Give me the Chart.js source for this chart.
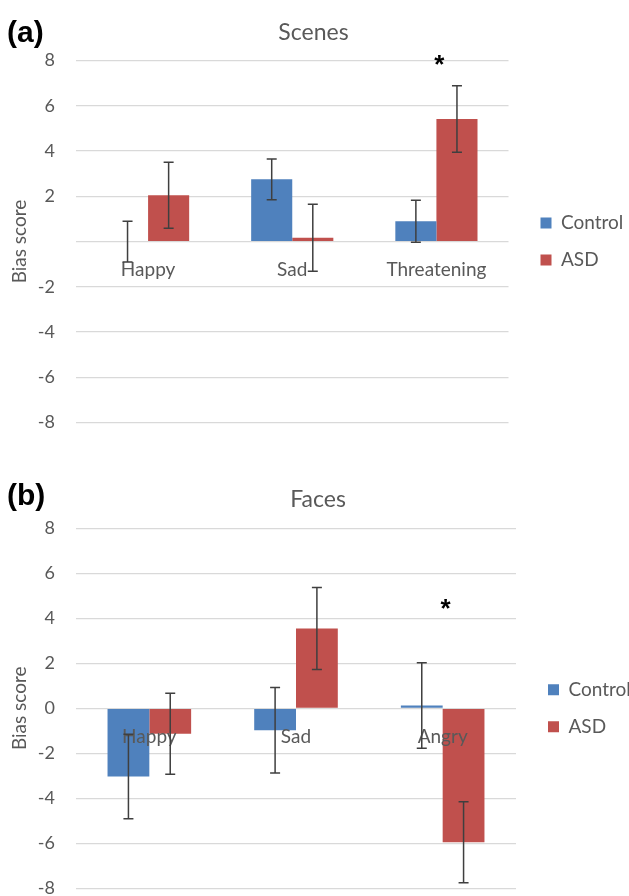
<!DOCTYPE html>
<html>
<head>
<meta charset="utf-8">
<script src="https://cdn.jsdelivr.net/npm/chart.js@4"></script>
<style>
  html, body { margin: 0; padding: 0; background: #fff; overflow: hidden; }
  .panel { position: absolute; left: 0; width: 629px; }
  .tag { position: absolute; left: 7px; font: bold 30px "Liberation Sans", Arial, sans-serif; color: #000; line-height: 1; }
</style>
</head>
<body>
<div class="panel" style="top:0"><canvas id="scenes" width="629" height="455"></canvas></div>
<div class="panel" style="top:455px"><canvas id="faces" width="629" height="467"></canvas></div>
<div class="tag" style="top:17px">(a)</div>
<div class="tag" style="top:480px">(b)</div>
<script>
// values
const seriesNames = ['Control', 'ASD'];

const scenesCats = ['Happy', 'Sad', 'Threatening'];
const scenesControl = [0, 2.75, 0.9];
const scenesControlErr = [0.9, 0.9, 0.93];
const scenesAsd = [2.05, 0.17, 5.42];
const scenesAsdErr = [1.46, 1.48, 1.47];
const scenesStar = ['Threatening', 8.0];

const facesCats = ['Happy', 'Sad', 'Angry'];
const facesControl = [-3.03, -0.98, 0.13];
const facesControlErr = [1.88, 1.9, 1.9];
const facesAsd = [-1.13, 3.55, -5.95];
const facesAsdErr = [1.8, 1.82, 1.8];
const facesStar = ['Angry', 4.6];

const yTickValues = [-8, -6, -4, -2, 0, 2, 4, 6, 8];
const scenesTickLabels = ['-8', '-6', '-4', '-2', '', '2', '4', '6', '8'];
const facesTickLabels = ['-8', '-6', '-4', '-2', '0', '2', '4', '6', '8'];

const BLUE = '#4F81BD';
const RED = '#C0504D';
const GREY = '#595959';
const FONT = 'Lato, "Open Sans", sans-serif';

// whiskers, drawn through the y scale
const errorBars = {
  id: 'errorBars',
  afterDraw(chart) {
    const { ctx } = chart;
    const y = chart.scales.y;
    ctx.save();
    ctx.strokeStyle = '#3f3f3f';
    ctx.lineWidth = 1.5;
    chart.data.datasets.forEach((ds, i) => {
      const meta = chart.getDatasetMeta(i);
      meta.data.forEach((bar, j) => {
        const v = ds.data[j], e = ds.errors[j];
        const top = y.getPixelForValue(v + e);
        const bot = y.getPixelForValue(v - e);
        const x = bar.x;
        ctx.beginPath();
        ctx.moveTo(x, top); ctx.lineTo(x, bot);
        ctx.moveTo(x - 5, top); ctx.lineTo(x + 5, top);
        ctx.moveTo(x - 5, bot); ctx.lineTo(x + 5, bot);
        ctx.stroke();
      });
    });
    ctx.restore();
  }
};

// significance star
const starMark = {
  id: 'starMark',
  afterDraw(chart, args, opts) {
    const { ctx } = chart;
    const x = chart.scales.x.getPixelForValue(chart.data.labels.indexOf(opts.at[0]));
    const y = chart.scales.y.getPixelForValue(opts.at[1]);
    ctx.save();
    ctx.fillStyle = '#000';
    ctx.font = 'bold 26px "Liberation Sans", Arial, sans-serif';
    ctx.textAlign = 'center';
    ctx.textBaseline = 'middle';
    ctx.fillText('*', x + 3, y + 5);
    ctx.restore();
  }
};

function makeChart(id, title, cats, ctrl, ctrlErr, asd, asdErr, tickLabels, star, lay) {
  return new Chart(document.getElementById(id), {
    type: 'bar',
    data: {
      labels: cats,
      datasets: [
        { label: seriesNames[0], data: ctrl, errors: ctrlErr, backgroundColor: BLUE },
        { label: seriesNames[1], data: asd, errors: asdErr, backgroundColor: RED }
      ]
    },
    options: {
      responsive: false,
      animation: false,
      layout: { padding: lay.padding },
      datasets: { bar: { categoryPercentage: 0.57, barPercentage: 1, borderWidth: 0 } },
      plugins: {
        tooltip: { enabled: false },
        title: {
          display: true, text: title, color: GREY,
          font: { family: FONT, size: 23, weight: 'normal' },
          padding: lay.titlePad
        },
        legend: {
          position: 'right', align: 'center', fullSize: false,
          labels: {
            color: GREY, boxWidth: 11, boxHeight: 11, padding: 18,
            font: { family: FONT, size: 19 }
          }
        },
        starMark: { at: star }
      },
      scales: {
        x: {
          position: { y: 0 },
          grid: { display: false, drawTicks: false },
          border: { display: false },
          ticks: { z: 1, color: GREY, padding: 17, font: { family: FONT, size: 19 } }
        },
        y: {
          min: -8, max: 8,
          afterBuildTicks(s) { s.ticks = yTickValues.map(v => ({ value: v })); },
          afterFit(s) { s.width = 76; },
          grid: { color: '#D9D9D9', lineWidth: 1.3, drawTicks: false },
          border: { display: false },
          ticks: {
            color: GREY, padding: 21, font: { family: FONT, size: 18 },
            callback: (v) => tickLabels[yTickValues.indexOf(v)]
          },
          title: {
            display: true, text: 'Bias score', color: GREY,
            font: { family: FONT, size: 19 }, padding: { top: 8, bottom: 0 }
          }
        },
        gap: {
          type: 'linear', position: 'right',
          grid: { display: false }, border: { display: false },
          ticks: { display: false },
          afterFit(s) { s.width = lay.gap; }
        }
      }
    },
    plugins: [errorBars, starMark]
  });
}

makeChart('scenes', 'Scenes', scenesCats, scenesControl, scenesControlErr, scenesAsd, scenesAsdErr,
  scenesTickLabels, scenesStar,
  { padding: { top: 0, left: 0, right: 2, bottom: 32.5 }, titlePad: { top: 19, bottom: 14 }, gap: 14 });

makeChart('faces', 'Faces', facesCats, facesControl, facesControlErr, facesAsd, facesAsdErr,
  facesTickLabels, facesStar,
  { padding: { top: 0, left: 0, right: -7, bottom: 33.7 }, titlePad: { top: 31, bottom: 14.7 }, gap: 14 });
</script>
</body>
</html>
